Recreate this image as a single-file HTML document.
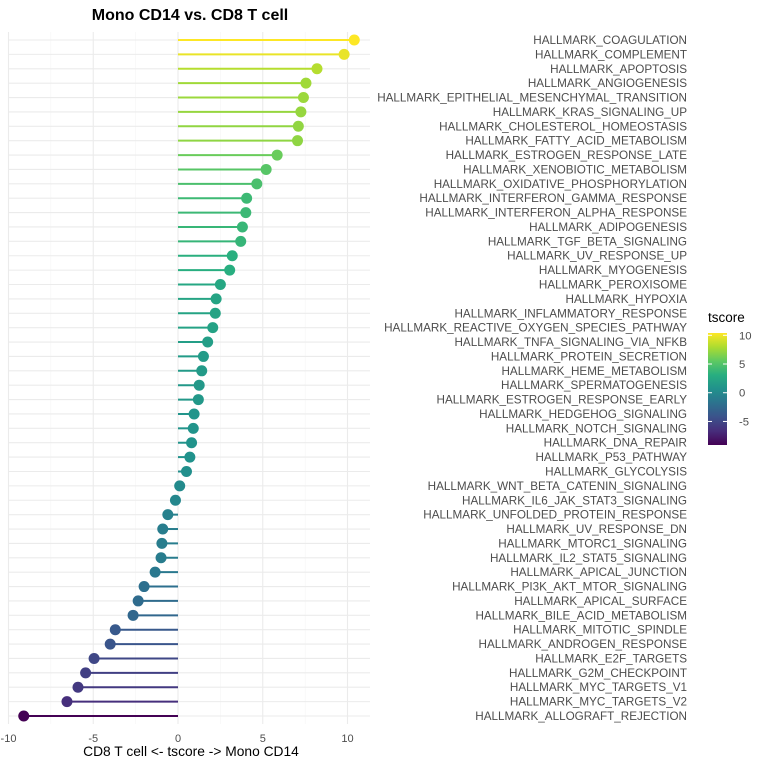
<!DOCTYPE html>
<html><head><meta charset="utf-8">
<style>
body{margin:0;background:#fff;}
svg{font-family:"Liberation Sans",sans-serif;}
</style></head>
<body>
<svg id="chart" width="768" height="768">
<defs>
<linearGradient id="vir" x1="0" y1="1" x2="0" y2="0">
<stop offset="0" stop-color="#440154"/><stop offset="0.125" stop-color="#472d7b"/>
<stop offset="0.25" stop-color="#3b528b"/><stop offset="0.375" stop-color="#2c728e"/>
<stop offset="0.5" stop-color="#21918c"/><stop offset="0.625" stop-color="#28ae80"/>
<stop offset="0.75" stop-color="#5ec962"/><stop offset="0.875" stop-color="#addc30"/>
<stop offset="1" stop-color="#fde725"/>
</linearGradient>
</defs>
<g id="grid"></g>
<g id="marks"></g>
<g id="labels"></g>
<text x="190" y="20" text-anchor="middle" font-size="16" font-weight="bold" fill="#000">Mono CD14 vs. CD8 T cell</text>
<text x="191" y="756" text-anchor="middle" font-size="13.8" fill="#000">CD8 T cell &lt;- tscore -&gt; Mono CD14</text>
<g>
<text x="708" y="322" font-size="13.5" fill="#000">tscore</text>
<rect x="708" y="333" width="19" height="112" fill="url(#vir)"/>
<g id="legticks"></g>
</g>
</svg>
<script>
const categories=["HALLMARK_COAGULATION","HALLMARK_COMPLEMENT","HALLMARK_APOPTOSIS","HALLMARK_ANGIOGENESIS","HALLMARK_EPITHELIAL_MESENCHYMAL_TRANSITION","HALLMARK_KRAS_SIGNALING_UP","HALLMARK_CHOLESTEROL_HOMEOSTASIS","HALLMARK_FATTY_ACID_METABOLISM","HALLMARK_ESTROGEN_RESPONSE_LATE","HALLMARK_XENOBIOTIC_METABOLISM","HALLMARK_OXIDATIVE_PHOSPHORYLATION","HALLMARK_INTERFERON_GAMMA_RESPONSE","HALLMARK_INTERFERON_ALPHA_RESPONSE","HALLMARK_ADIPOGENESIS","HALLMARK_TGF_BETA_SIGNALING","HALLMARK_UV_RESPONSE_UP","HALLMARK_MYOGENESIS","HALLMARK_PEROXISOME","HALLMARK_HYPOXIA","HALLMARK_INFLAMMATORY_RESPONSE","HALLMARK_REACTIVE_OXYGEN_SPECIES_PATHWAY","HALLMARK_TNFA_SIGNALING_VIA_NFKB","HALLMARK_PROTEIN_SECRETION","HALLMARK_HEME_METABOLISM","HALLMARK_SPERMATOGENESIS","HALLMARK_ESTROGEN_RESPONSE_EARLY","HALLMARK_HEDGEHOG_SIGNALING","HALLMARK_NOTCH_SIGNALING","HALLMARK_DNA_REPAIR","HALLMARK_P53_PATHWAY","HALLMARK_GLYCOLYSIS","HALLMARK_WNT_BETA_CATENIN_SIGNALING","HALLMARK_IL6_JAK_STAT3_SIGNALING","HALLMARK_UNFOLDED_PROTEIN_RESPONSE","HALLMARK_UV_RESPONSE_DN","HALLMARK_MTORC1_SIGNALING","HALLMARK_IL2_STAT5_SIGNALING","HALLMARK_APICAL_JUNCTION","HALLMARK_PI3K_AKT_MTOR_SIGNALING","HALLMARK_APICAL_SURFACE","HALLMARK_BILE_ACID_METABOLISM","HALLMARK_MITOTIC_SPINDLE","HALLMARK_ANDROGEN_RESPONSE","HALLMARK_E2F_TARGETS","HALLMARK_G2M_CHECKPOINT","HALLMARK_MYC_TARGETS_V1","HALLMARK_MYC_TARGETS_V2","HALLMARK_ALLOGRAFT_REJECTION"];
const tscores=[10.4,9.8,8.2,7.55,7.4,7.25,7.1,7.05,5.85,5.2,4.65,4.05,4.0,3.8,3.7,3.2,3.05,2.5,2.25,2.2,2.05,1.75,1.5,1.4,1.25,1.2,0.95,0.9,0.8,0.7,0.5,0.1,-0.15,-0.6,-0.9,-0.95,-1.0,-1.35,-2.0,-2.35,-2.65,-3.7,-4.0,-4.95,-5.45,-5.9,-6.55,-9.1];
const xTicks=[-10,-5,0,5,10];
const legendTicks=[10,5,0,-5];
const NS="http://www.w3.org/2000/svg";
const x0=178, ppu=16.95;
function xs(v){return x0+v*ppu;}
const yTop=40, yBot=716;
const step=(yBot-yTop)/(categories.length-1);
function ys(i){return yTop+i*step;}
const vmin=Math.min(...tscores), vmax=Math.max(...tscores);
const stops=["#440154","#472d7b","#3b528b","#2c728e","#21918c","#28ae80","#5ec962","#addc30","#fde725"];
function hex(h){return [1,3,5].map(k=>parseInt(h.substr(k,2),16));}
function col(v){let t=(v-vmin)/(vmax-vmin);t=Math.max(0,Math.min(1,t));const p=t*8,i=Math.min(7,Math.floor(p)),f=p-i;const a=hex(stops[i]),b=hex(stops[i+1]);return "rgb("+a.map((c,k)=>Math.round(c+(b[k]-c)*f)).join(",")+")";}
function mk(tag,attrs,parent){const e=document.createElementNS(NS,tag);for(const k in attrs)e.setAttribute(k,attrs[k]);parent.appendChild(e);return e;}
const grid=document.getElementById('grid'),marks=document.getElementById('marks'),labels=document.getElementById('labels');
const pL=8,pR=370,pT=32,pB=724;
for(let v=-10;v<=10;v+=2.5){const major=v%5===0;const l=mk('line',{x1:xs(v),x2:xs(v),y1:pT,y2:pB,stroke:major?'#ebebeb':'#f5f5f5','stroke-width':major?1.1:0.6},grid);

}
categories.forEach((c,i)=>{const l=mk('line',{x1:pL,x2:pR,y1:ys(i),y2:ys(i),stroke:'#ebebeb','stroke-width':1.1},grid);

});
xTicks.forEach(v=>{const t=mk('text',{x:xs(v),y:742,'text-anchor':'middle','font-size':11,fill:'#4d4d4d'},grid);t.textContent=v;

});
categories.forEach((c,i)=>{const v=tscores[i],y=ys(i),cl=col(v);
const ln=mk('line',{x1:xs(0),x2:xs(v),y1:y,y2:y,stroke:cl,'stroke-width':2},marks);


const pt=mk('circle',{cx:xs(v),cy:y,r:5.5,fill:cl},marks);


const t=mk('text',{x:687,y:y+4,'text-anchor':'end','font-size':11.7,fill:'#4d4d4d'},labels);t.textContent=c;

});
const lt=document.getElementById('legticks');
legendTicks.forEach(v=>{const y=333+(vmax-v)/(vmax-vmin)*112;
const a=mk('line',{x1:708,x2:712,y1:y,y2:y,stroke:'#fff','stroke-width':1},lt);


const b=mk('line',{x1:723,x2:727,y1:y,y2:y,stroke:'#fff','stroke-width':1},lt);


const t=mk('text',{x:739,y:y+4,'font-size':11.3,fill:'#4d4d4d'},lt);t.textContent=v;

});
</script>
</body></html>
